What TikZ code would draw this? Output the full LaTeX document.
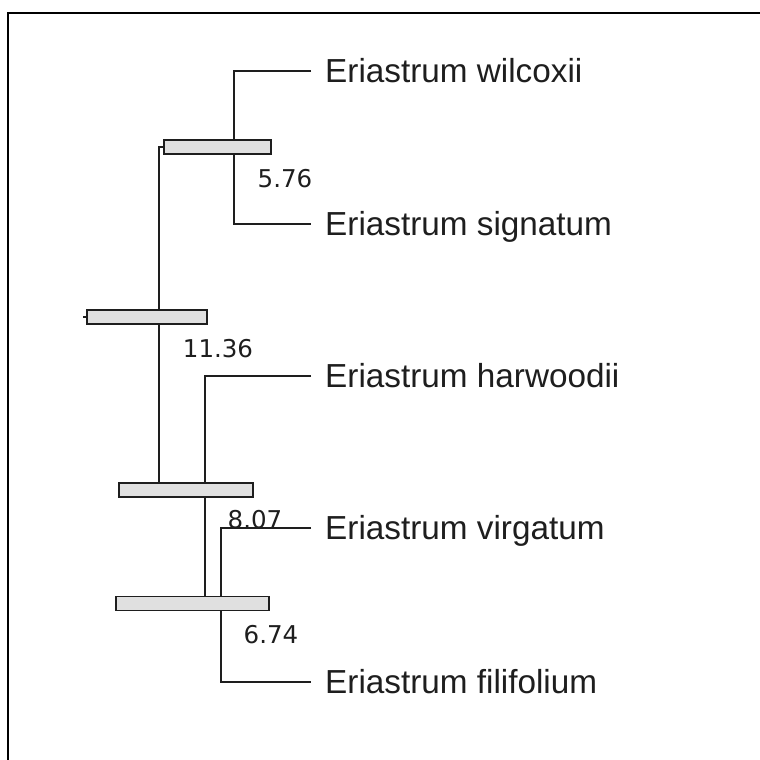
\documentclass[tikz,border=0pt]{standalone}
\usepackage{fontspec}
\setmainfont{Liberation Sans}
\newfontfamily\numfont{DejaVu Sans}
\usetikzlibrary{calc}

\definecolor{barfill}{HTML}{E0E0E0}
\definecolor{inkgray}{HTML}{1E1E1E}

\begin{document}
\begin{tikzpicture}[x     = {(1pt,0pt)},
                    y     = {(0pt,-1pt)},
                    color = {inkgray}]
% styles
\tikzset{branch/.style={line width=1.8pt,inkgray},
         leafedge/.style={branch,shorten <=14pt,shorten >=14pt},
         barbox/.style={draw=inkgray,fill=barfill,line width=1.8pt,
                        minimum height=14pt,inner sep=0pt},
         leaf/.style={anchor=west,inner sep=0pt,text height=23.6pt,
                      text depth=0pt,font=\fontsize{33.3}{36}\selectfont},
         age/.style={anchor=base,inner sep=0pt,
                     font=\numfont\fontsize{24.5}{28}\selectfont}}
% page and frame
\useasboundingbox[fill=white] (0,0) rectangle (760,760);
\draw[black,line width=2pt] (8,13) rectangle (790,790);
% species
\node[leaf] (wil) at (325,71)  {Eriastrum wilcoxii};
\node[leaf] (sig) at (325,224) {Eriastrum signatum};
\node[leaf] (har) at (325,376) {Eriastrum harwoodii};
\node[leaf] (vir) at (325,528) {Eriastrum virgatum};
\node[leaf] (fil) at (325,682) {Eriastrum filifolium};
% joins
\coordinate (n1) at (234,147);
\coordinate (n2) at (159,490);
\coordinate (n3) at (205,603.5);
\coordinate (n4) at (221,603.5);
% branches
\draw[leafedge] (wil.west) -| (n1) |- (sig.west);
\draw[leafedge] (vir.west) -| (n4) |- (fil.west);
\draw[branch,shorten <=14pt] (har.west) -| (n3);
% bars
\node[barbox,minimum width=107pt] (b1) at (217.5,147) {};
\draw[branch] (b1.west) -| (n2);
\node[barbox,minimum width=120pt] (b2) at (147,317)   {};
\draw[branch] (b2.west) -- ++(-3,0);
\node[barbox,minimum width=134pt] (b3) at (186,490)   {};
\node[barbox,minimum width=153pt] (b4) at (192.5,603.5) {};
% ages
\node[age] (a1) at (285,187) {5.76};
\node[age] (a2) at (218,357) {11.36};
\node[age] (a3) at (255,528) {8.07};
\node[age] (a4) at (271,643) {6.74};
\end{tikzpicture}
\end{document}
